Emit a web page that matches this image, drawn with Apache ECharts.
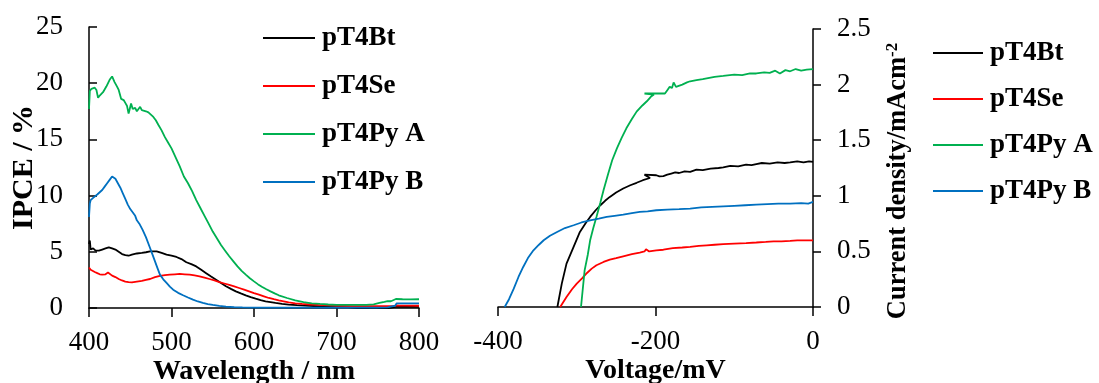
<!DOCTYPE html>
<html>
<head>
<meta charset="utf-8">
<script src="https://cdn.jsdelivr.net/npm/echarts@6/dist/echarts.min.js"></script>
<style>
html,body{margin:0;padding:0;background:#fff;}
#chart{width:1099px;height:383px;}
</style>
</head>
<body>
<div id="chart"></div>
<script>
// ---------- DATA ----------
const seriesNames = ['pT4Bt', 'pT4Se', 'pT4Py A', 'pT4Py B'];
const seriesColors = ['#000000', '#ff0000', '#00b050', '#0070c0'];

// IPCE (%) vs wavelength (nm)
const ipceBt = [[400,5.7],[401,6.0],[402,5.2],[405,5.3],[408,5.1],[412,5.1],[416,5.2],[420,5.3],[424,5.4],[426,5.45],[428,5.3],[432,5.2],[436,5.0],[440,4.8],[444,4.7],[448,4.65],[452,4.75],[458,4.85],[464,4.9],[469,4.96],[474,5.04],[482,5.04],[488,4.9],[494,4.75],[500,4.65],[506,4.54],[512,4.35],[518,4.07],[524,3.9],[530,3.7],[536,3.4],[542,3.1],[548,2.8],[554,2.52],[560,2.22],[566,1.93],[572,1.7],[578,1.48],[584,1.3],[590,1.13],[596,0.97],[602,0.83],[608,0.7],[614,0.59],[620,0.52],[626,0.45],[634,0.37],[642,0.3],[652,0.25],[662,0.21],[672,0.18],[682,0.15],[698,0.12],[714,0.08],[722,0.02],[730,-0.05],[740,-0.08],[748,-0.1],[756,-0.05],[762,0.0],[768,0.06],[772,0.1],[780,0.1],[790,0.1],[800,0.1]];
const ipceSe = [[400,3.6],[401,3.75],[402,3.4],[404,3.3],[407,3.2],[410,3.1],[413,3.0],[416,2.97],[420,3.0],[423,3.15],[425,3.05],[428,2.88],[432,2.75],[436,2.58],[440,2.45],[444,2.34],[448,2.3],[452,2.28],[458,2.35],[464,2.42],[469,2.5],[474,2.58],[480,2.74],[486,2.85],[492,2.92],[498,2.97],[504,3.0],[510,3.03],[516,3.0],[522,2.97],[528,2.9],[534,2.82],[540,2.7],[546,2.58],[552,2.45],[558,2.31],[564,2.18],[570,2.05],[576,1.92],[582,1.78],[588,1.63],[594,1.48],[600,1.33],[606,1.19],[612,1.04],[618,0.89],[624,0.78],[630,0.68],[636,0.59],[642,0.5],[650,0.42],[658,0.36],[668,0.31],[678,0.27],[690,0.23],[700,0.2],[720,0.17],[740,0.16],[760,0.16],[770,0.17],[773,0.24],[776,0.22],[785,0.21],[800,0.2]];
const ipcePyA = [[400,17.7],[401,19.3],[403,19.5],[405,19.4],[407,19.6],[409,19.4],[411,18.7],[413,18.9],[417,19.2],[421,19.7],[425,20.3],[428,20.6],[429,20.5],[431,20.1],[434,19.7],[436,19.4],[439,18.6],[442,18.5],[444,18.25],[446,18.0],[448,17.3],[449,17.6],[451,18.2],[453,17.7],[456,17.8],[458,17.5],[460,17.7],[462,17.9],[464,17.6],[466,17.6],[469,17.5],[472,17.4],[475,17.2],[478,17.0],[481,16.7],[484,16.3],[488,15.8],[492,15.2],[496,14.7],[500,14.2],[505,13.4],[510,12.6],[515,11.7],[520,11.1],[525,10.4],[530,9.6],[535,8.9],[540,8.2],[545,7.5],[550,6.8],[555,6.2],[560,5.6],[565,5.1],[570,4.6],[575,4.15],[580,3.7],[585,3.3],[590,2.97],[595,2.65],[600,2.37],[605,2.1],[610,1.87],[615,1.67],[620,1.48],[625,1.3],[630,1.13],[640,0.89],[650,0.68],[660,0.53],[670,0.42],[680,0.36],[690,0.31],[700,0.28],[720,0.27],[736,0.28],[745,0.33],[752,0.45],[758,0.55],[762,0.62],[764,0.7],[766,0.6],[768,0.68],[772,0.8],[780,0.78],[790,0.76],[800,0.78]];
const ipcePyB = [[400,8.1],[401,9.3],[402,9.6],[405,9.8],[407,9.9],[410,10.1],[413,10.3],[416,10.5],[419,10.8],[422,11.1],[425,11.4],[428,11.7],[430,11.6],[432,11.5],[435,11.1],[438,10.7],[441,10.2],[444,9.7],[447,9.2],[450,8.8],[452,8.6],[454,8.4],[456,8.2],[458,7.8],[461,7.5],[465,6.95],[469,6.3],[474,5.34],[477,4.75],[480,4.15],[483,3.55],[486,2.97],[490,2.55],[494,2.23],[498,1.9],[502,1.63],[508,1.35],[514,1.13],[520,0.93],[526,0.74],[532,0.58],[538,0.45],[544,0.35],[550,0.27],[558,0.18],[566,0.12],[576,0.08],[586,0.06],[600,0.04],[650,0.03],[700,0.03],[750,0.03],[762,0.06],[767,0.15],[769,0.3],[771,0.2],[773,0.42],[780,0.42],[790,0.42],[800,0.42]];

// Current density (mA cm^-2) vs voltage (mV)
const jvBt = [[-324.6,0],[-319,0.21],[-313,0.39],[-304,0.54],[-296,0.675],[-289,0.75],[-283,0.81],[-276,0.87],[-270,0.915],[-264,0.955],[-258,0.99],[-250,1.03],[-241,1.066],[-232,1.095],[-224,1.117],[-216,1.14],[-207,1.16],[-214,1.19],[-199,1.185],[-195,1.175],[-190,1.177],[-185,1.19],[-180,1.2],[-175,1.21],[-170,1.205],[-163,1.22],[-156,1.216],[-148,1.235],[-140,1.23],[-130,1.245],[-120,1.25],[-114,1.255],[-105,1.27],[-95,1.265],[-85,1.28],[-78,1.275],[-72,1.285],[-65,1.295],[-55,1.29],[-45,1.3],[-36,1.295],[-29,1.3],[-20,1.31],[-12,1.3],[-5,1.31],[0,1.305]];
const jvSe = [[-321,0],[-313,0.09],[-306,0.16],[-300,0.21],[-293,0.26],[-287,0.306],[-281,0.345],[-275,0.375],[-266,0.405],[-258,0.426],[-250,0.44],[-241,0.456],[-230,0.475],[-220,0.49],[-214,0.5],[-212,0.52],[-208,0.5],[-199,0.51],[-190,0.515],[-178,0.53],[-166,0.535],[-156,0.54],[-145,0.55],[-135,0.555],[-125,0.56],[-114,0.565],[-100,0.57],[-85,0.575],[-72,0.58],[-60,0.585],[-50,0.59],[-40,0.59],[-29,0.595],[-20,0.6],[-10,0.6],[0,0.6]];
const jvPyA = [[-294.6,0],[-290,0.33],[-286,0.47],[-283,0.6],[-279,0.71],[-275,0.81],[-270,0.94],[-266,1.05],[-260,1.2],[-255,1.32],[-249,1.426],[-243,1.52],[-237,1.607],[-230,1.69],[-224,1.757],[-217,1.81],[-211,1.85],[-206,1.89],[-202,1.91],[-214,1.92],[-188,1.92],[-185,1.95],[-182,1.98],[-179,1.97],[-177,2.02],[-174,1.98],[-166,2.0],[-160,2.02],[-156,2.03],[-148,2.04],[-140,2.05],[-135,2.057],[-125,2.07],[-114,2.078],[-100,2.09],[-90,2.085],[-80,2.1],[-72,2.1],[-62,2.11],[-55,2.105],[-48,2.125],[-42,2.1],[-35,2.13],[-29,2.12],[-22,2.14],[-15,2.125],[-8,2.135],[0,2.14]];
const jvPyB = [[-391.5,0],[-386,0.07],[-380,0.165],[-374,0.27],[-368,0.36],[-362,0.44],[-355,0.51],[-348,0.56],[-342,0.6],[-334,0.64],[-325,0.675],[-315,0.71],[-304,0.735],[-294,0.76],[-283,0.78],[-272,0.795],[-262,0.81],[-252,0.82],[-241,0.83],[-230,0.845],[-220,0.855],[-210,0.86],[-199,0.87],[-185,0.875],[-170,0.88],[-156,0.885],[-142,0.895],[-128,0.9],[-114,0.905],[-100,0.91],[-86,0.915],[-72,0.92],[-58,0.925],[-44,0.93],[-29,0.93],[-15,0.935],[-6,0.93],[0,0.945]];

const ipceData = [ipceBt, ipceSe, ipcePyA, ipcePyB];
const jvData = [jvBt, jvSe, jvPyA, jvPyB];

// ---------- CHART ----------
const FONT = "'Liberation Serif','Times New Roman',serif";
const axisLine = {show: true, lineStyle: {color: '#000', width: 1.5}};
const tickStyle = {color: '#000', width: 1.5};
const labelStyle = {color: '#000', fontFamily: FONT, fontSize: 27};
const nameStyle = {color: '#000', fontFamily: FONT, fontSize: 28, fontWeight: 'bold'};

const series = [];
seriesNames.forEach((n, i) => {
  series.push({name: n, type: 'line', xAxisIndex: 0, yAxisIndex: 0, data: ipceData[i],
    symbol: 'none', lineStyle: {color: seriesColors[i], width: 1.8}, itemStyle: {color: seriesColors[i]}, animation: false});
});
seriesNames.forEach((n, i) => {
  series.push({name: n, type: 'line', xAxisIndex: 1, yAxisIndex: 1, data: jvData[i],
    symbol: 'none', lineStyle: {color: seriesColors[i], width: 1.8}, itemStyle: {color: seriesColors[i]}, animation: false});
});

const legendCommon = {
  orient: 'vertical', icon: 'rect', itemHeight: 2, padding: 0,
  textStyle: {color: '#000', fontFamily: FONT, fontSize: 27, fontWeight: 'bold', lineHeight: 30, padding: [0, 0, 0, 2]},
  data: seriesNames, selectedMode: false
};

const option = {
  backgroundColor: '#fff',
  animation: false,
  legend: [
    Object.assign({}, legendCommon, {left: 263, top: 23, itemWidth: 52, itemGap: 18}),
    Object.assign({}, legendCommon, {left: 933, top: 38, itemWidth: 50, itemGap: 16})
  ],
  grid: [
    {left: 89, top: 27, width: 330, height: 281, containLabel: false, outerBoundsMode: 'none'},
    {left: 498, top: 29, width: 315, height: 278, containLabel: false, outerBoundsMode: 'none'}
  ],
  xAxis: [
    {type: 'value', gridIndex: 0, min: 400, max: 800, interval: 100,
     name: 'Wavelength / nm', nameLocation: 'middle', nameGap: 50, nameMoveOverlap: false, nameTextStyle: nameStyle,
     axisLine: axisLine, axisTick: {show: true, inside: false, length: 9, lineStyle: tickStyle},
     axisLabel: Object.assign({margin: 21}, labelStyle), splitLine: {show: false}},
    {type: 'value', gridIndex: 1, min: -400, max: 0, interval: 200,
     name: 'Voltage/mV', nameLocation: 'middle', nameGap: 50, nameMoveOverlap: false, nameTextStyle: nameStyle,
     axisLine: axisLine, axisTick: {show: true, inside: false, length: 9, lineStyle: tickStyle},
     axisLabel: Object.assign({margin: 21}, labelStyle), splitLine: {show: false}}
  ],
  yAxis: [
    {type: 'value', gridIndex: 0, min: 0, max: 25, interval: 5,
     name: 'IPCE / %', nameLocation: 'middle', nameRotate: 90, nameGap: 50, nameMoveOverlap: false,
     nameTextStyle: Object.assign({}, nameStyle, {fontSize: 30}),
     axisLine: axisLine, axisTick: {show: true, inside: true, length: 8, lineStyle: tickStyle},
     axisLabel: Object.assign({margin: 26}, labelStyle), splitLine: {show: false}},
    {type: 'value', gridIndex: 1, position: 'right', min: 0, max: 2.5, interval: 0.5,
     name: 'Current density/mAcm{sup|-2}', nameLocation: 'middle', nameRotate: 90, nameGap: 71, nameMoveOverlap: false,
     nameTextStyle: Object.assign({}, nameStyle, {fontSize: 26.5, padding: [0, 26, 0, 0], rich: {sup: {fontFamily: FONT, fontSize: 17, fontWeight: 'bold', color: '#000', verticalAlign: 'top', padding: [0, 0, 12, 0]}}}),
     axisLine: axisLine, axisTick: {show: true, inside: false, length: 8, lineStyle: tickStyle},
     axisLabel: Object.assign({margin: 24}, labelStyle), splitLine: {show: false}}
  ],
  series: series
};

const chart = echarts.init(document.getElementById('chart'), null, {renderer: 'canvas'});
chart.setOption(option);
</script>
</body>
</html>
